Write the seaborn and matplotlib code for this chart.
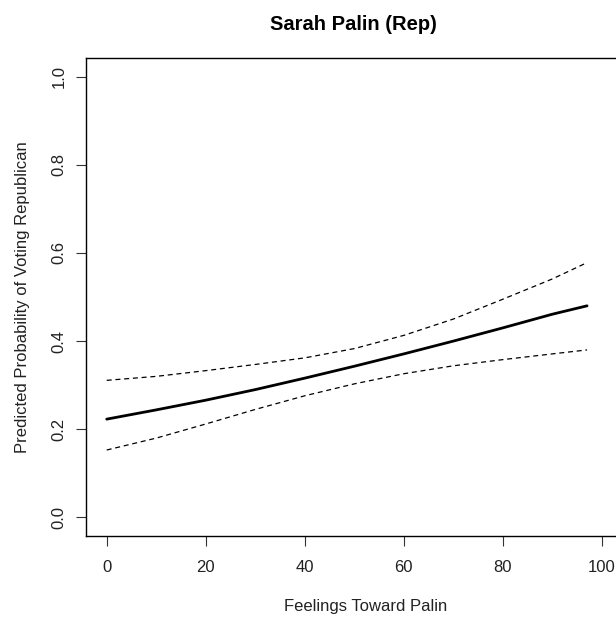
#!/usr/bin/env python3
"""Predicted probability of voting Republican vs. feelings toward Palin."""

import matplotlib
matplotlib.use("Agg")
import matplotlib.pyplot as plt
import seaborn as sns
import pandas as pd

# values
feelings = [0, 10, 20, 30, 40, 50, 60, 70, 80, 90, 97]
prob_fit = [0.223, 0.244, 0.266, 0.290, 0.316, 0.343, 0.371, 0.400, 0.430, 0.461, 0.480]
prob_upper = [0.311, 0.320, 0.333, 0.347, 0.362, 0.383, 0.413, 0.450, 0.495, 0.541, 0.578]
prob_lower = [0.153, 0.180, 0.212, 0.245, 0.276, 0.303, 0.326, 0.344, 0.358, 0.371, 0.380]

x_ticks = [0, 20, 40, 60, 80, 100]
y_ticks = [0.0, 0.2, 0.4, 0.6, 0.8, 1.0]

sns.set_style("white")
plt.rcParams["font.family"] = ["Liberation Sans", "DejaVu Sans"]

df = pd.DataFrame({"x": feelings, "fit": prob_fit, "upper": prob_upper, "lower": prob_lower})

fig = plt.figure(figsize=(6.16, 6.17), dpi=100)
# plot box in R extends past the right edge of the picture
ax = fig.add_axes([86 / 616, 1 - 536 / 617, (645 - 86) / 616, (536 - 58) / 617])

sns.lineplot(data=df, x="x", y="fit", ax=ax, color="black", linewidth=2.0)
sns.lineplot(data=df, x="x", y="upper", ax=ax, color="black", linewidth=0.9, linestyle=(0, (4, 3)))
sns.lineplot(data=df, x="x", y="lower", ax=ax, color="black", linewidth=0.9, linestyle=(0, (4, 3)))

ax.set_xlim(-4.18, 108.7)
ax.set_ylim(-0.042, 1.042)
ax.set_xticks(x_ticks)
ax.set_yticks(y_ticks)
ax.set_xticklabels([str(t) for t in x_ticks])
ax.set_yticklabels([f"{t:.1f}" for t in y_ticks], rotation=90, va="center")
ax.tick_params(axis="both", direction="out", length=7.2, width=0.8, color="#333333",
               labelsize=12, labelcolor="#222222")
ax.tick_params(axis="x", pad=10)
ax.tick_params(axis="y", pad=7)
ax.tick_params(bottom=True, left=True)
for side in ax.spines.values():
    side.set_color("black")
    side.set_linewidth(1.0)

ax.set_xlabel("Feelings Toward Palin", fontsize=12, color="#222222", labelpad=17)
ax.set_ylabel("Predicted Probability of Voting Republican", fontsize=12, color="#222222", labelpad=15)
fig.text(353.5 / 616, 1 - 24 / 617, "Sarah Palin (Rep)", ha="center", va="center",
         fontsize=14.5, fontweight="bold", color="black")

fig.savefig("out.png", dpi=100, facecolor="white")
